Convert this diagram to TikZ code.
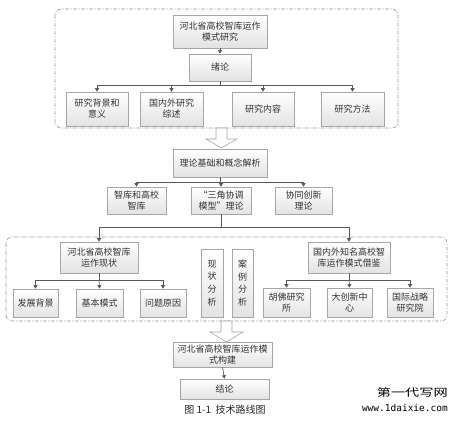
\documentclass[tikz,border=0pt]{standalone}
\usepackage{fontspec}
\newfontfamily\cjk{Noto Sans CJK SC}
\newfontfamily\wmono{DejaVu Sans Mono}
\usetikzlibrary{arrows.meta,shadows}
\begin{document}
\begin{tikzpicture}[x=1pt,y=-1pt,
  box/.style={draw=gray!70, top color=white, bottom color=gray!22, line width=0.6pt,
    drop shadow={shadow xshift=1.2pt, shadow yshift=-1.2pt, fill=gray!55, opacity=0.7},
    font=\cjk\fontsize{9}{11}\selectfont, text=black!80, align=center, inner sep=1pt},
  vbox/.style={box, font=\cjk\fontsize{9}{12.7}\selectfont},
  grp/.style={draw=gray!80, dash pattern=on 4pt off 1.5pt on 1pt off 1.5pt, rounded corners=6pt, line width=0.6pt},
  conn/.style={draw=black!65, line width=0.7pt},
  arr/.style={conn, -{Triangle[length=3.5pt,width=4pt]}},
  blk/.style={draw=gray!70, fill=white, line width=0.6pt}
]
\useasboundingbox (0,0) rectangle (462,431);

% group frames
\draw[grp] (55,9) rectangle (398,128);
\draw[grp] (6,237) rectangle (447,321);

% top group
\node[box, minimum width=94pt, minimum height=33pt] (t1) at (220,31.5) {河北省高校智库运作\\模式研究};
\node[box, minimum width=62pt, minimum height=27pt] (t2) at (220,67.5) {绪论};
\node[box, minimum width=62pt, minimum height=34pt] (a1) at (97,109) {研究背景和\\意义};
\node[box, minimum width=63pt, minimum height=34pt] (a2) at (171.5,109) {国内外研究\\综述};
\node[box, minimum width=62pt, minimum height=34pt] (a3) at (263,109) {研究内容};
\node[box, minimum width=63pt, minimum height=34pt] (a4) at (352.5,109) {研究方法};

\draw[arr] (t1.south) -- (t2.north);
\coordinate (j1) at (220,85);
\draw[conn] (t2.south) -- (j1);
\draw[arr] (j1) -| (a1.north);
\draw[arr] (j1) -| (a2.north);
\draw[arr] (j1) -| (a3.north);
\draw[arr] (j1) -| (a4.north);

% block arrow 1
\draw[blk] (216,128) -- (227,128) -- (227,139) -- (237,139) -- (221.5,148) -- (206,139) -- (216,139) -- cycle;

% theory
\node[box, minimum width=94pt, minimum height=28pt] (b0) at (220,163) {理论基础和概念解析};
\node[box, minimum width=59pt, minimum height=27pt] (b1) at (136.5,200.5) {智库和高校\\智库};
\node[box, minimum width=60pt, minimum height=27pt] (b2) at (221,200.5) {“三角协调\\模型”理论};
\node[box, minimum width=57pt, minimum height=27pt] (b3) at (303.5,200.5) {协同创新\\理论};
\coordinate (j2) at (220,182);
\draw[conn] (b0.south) -- (j2);
\draw[arr] (j2) -| (b1.north);
\draw[arr] (j2) -| (b2.north);
\draw[arr] (j2) -| (b3.north);

% second group
\node[box, minimum width=78pt, minimum height=31pt] (c1) at (99,257.5) {河北省高校智库\\运作现状};
\node[box, minimum width=82pt, minimum height=31pt] (c2) at (349,257.5) {国内外知名高校智\\库运作模式借鉴};
\coordinate (j3) at (221,227);
\draw[conn] (b2.south) -- (j3);
\draw[arr] (j3) -| (c1.north);
\draw[arr] (j3) -| (c2.north);

\node[box, minimum width=45pt, minimum height=28pt] (c11) at (35.5,303) {发展背景};
\node[box, minimum width=47pt, minimum height=28pt] (c12) at (99.5,303) {基本模式};
\node[box, minimum width=46pt, minimum height=28pt] (c13) at (163,303) {问题原因};
\coordinate (j4) at (99,280);
\draw[conn] (c1.south) -- (j4);
\draw[arr] (j4) -| (c11.north);
\draw[arr] (j4) -- (c12.north);
\draw[arr] (j4) -| (c13.north);

\node[vbox, minimum width=22pt, minimum height=68pt] (v1) at (212,283) {现\\状\\分\\析};
\node[vbox, minimum width=21pt, minimum height=68pt] (v2) at (242.5,283) {案\\例\\分\\析};

\node[box, minimum width=47pt, minimum height=29pt] (c21) at (286.5,302.5) {胡佛研究\\所};
\node[box, minimum width=45pt, minimum height=29pt] (c22) at (349.5,302.5) {大创新中\\心};
\node[box, minimum width=46pt, minimum height=29pt] (c23) at (410,302.5) {国际战略\\研究院};
\coordinate (j5) at (349,280);
\draw[conn] (c2.south) -- (j5);
\draw[arr] (j5) -| (c21.north);
\draw[arr] (j5) -- (c22.north);
\draw[arr] (j5) -| (c23.north);

% block arrow 2
\draw[blk] (221,321) -- (232,321) -- (232,332) -- (243,332) -- (226.5,342) -- (210,332) -- (221,332) -- cycle;

% bottom
\node[box, minimum width=99pt, minimum height=25pt] (d1) at (222.5,354.5) {河北省高校智库运作模\\式构建};
\node[box, minimum width=89pt, minimum height=20pt] (d2) at (224.5,389) {结论};
\draw[arr] (d1.south) -- (d2.north);

% caption
\node[font=\cjk\fontsize{10}{12}\selectfont, text=black!85] (cap) at (225,409.5) {图 1-1\ \ 技术路线图};

% watermark
\node[font=\cjk\fontsize{10.5}{12}\selectfont, xscale=1.35, anchor=east, inner sep=0pt] (wm1) at (448,392) {第一代写网};
\node[font=\wmono\fontsize{9.5}{11}\selectfont, anchor=east, inner sep=0pt] (wm2) at (448,408) {www.1daixie.com};
\end{tikzpicture}
\end{document}
